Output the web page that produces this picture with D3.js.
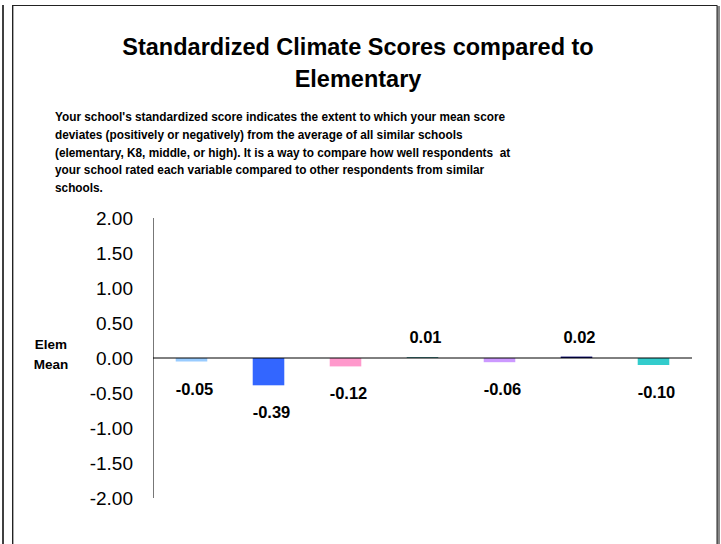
<!DOCTYPE html>
<html><head><meta charset="utf-8">
<script src="https://cdn.jsdelivr.net/npm/d3@7"></script>
<style>body{margin:0;background:#fff;} svg{display:block;font-family:"Liberation Sans",Arial,sans-serif;}</style>
</head><body>
<script>
const categories = ["Var1","Var2","Var3","Var4","Var5","Var6","Var7"];
const values = [-0.05,-0.39,-0.12,0.01,-0.06,0.02,-0.10];
const colors = ["#99CCFF","#3366FF","#FF99CC","#006666","#CC99FF","#000066","#33CCCC"];
const tickValues = [2,1.5,1,0.5,0,-0.5,-1,-1.5,-2];
const titleLines = ["Standardized Climate Scores compared to","Elementary"];
const noteLines = [
 "Your school's standardized score indicates the extent to which your mean score",
 "deviates (positively or negatively) from the average of all similar schools",
 "(elementary, K8, middle, or high). It is a way to compare how well respondents  at",
 "your school rated each variable compared to other respondents from similar",
 "schools."];
const axisTitle = ["Elem","Mean"];

const fmt = v => d3.format(".2f")(v).replace("\u2212","-");
const W=721,H=544;
const svg=d3.select("body").append("svg").attr("width",W).attr("height",H);
// frames
svg.append("line").attr("x1",3).attr("x2",3).attr("y1",5).attr("y2",H).attr("stroke","#000").attr("stroke-width",1.5);
svg.append("rect").attr("x",717).attr("y",6).attr("width",3).attr("height",H).attr("fill","#888");
svg.append("rect").attr("x",12.5).attr("y",5.5).attr("width",704.5).attr("height",H).attr("fill","none").attr("stroke","#222").attr("stroke-width",1);
svg.append("line").attr("x1",13.5).attr("x2",13.5).attr("y1",6).attr("y2",H).attr("stroke","#aaa").attr("stroke-width",1);

svg.selectAll("text.title").data(titleLines).join("text").attr("class","title")
 .attr("x",358).attr("y",(d,i)=>55+i*32).attr("text-anchor","middle")
 .style("font-weight","bold").style("font-size","23.5px").text(d=>d);
svg.append("g").attr("transform","translate(55,0) scale(0.91,1)")
 .selectAll("text.note").data(noteLines).join("text").attr("class","note")
 .attr("x",0).attr("y",(d,i)=>121.5+i*17.6).style("font-weight","bold").style("font-size","13px")
 .attr("xml:space","preserve").text(d=>d);

const y=d3.scaleLinear().domain([-2,2]).range([498,218]);
const x=d3.scaleBand().domain(categories).range([153,692]).paddingInner(0.59).paddingOuter(0.295);

svg.append("g").attr("transform","translate(133,0)")
 .call(d3.axisLeft(y).tickValues(tickValues).tickSize(0).tickPadding(0).tickFormat(fmt))
 .call(g=>g.select(".domain").remove())
 .call(g=>g.selectAll("text").style("font-size","19px").style("font-family","'Liberation Sans',Arial,sans-serif").attr("fill","#000"));
svg.append("line").attr("x1",153.5).attr("x2",153.5).attr("y1",y(2)).attr("y2",y(-2)).attr("stroke","#777");

svg.selectAll("rect.bar").data(values).join("rect").attr("class","bar")
 .attr("x",(d,i)=>x(categories[i])).attr("width",x.bandwidth())
 .attr("y",d=>y(Math.max(0,d))).attr("height",d=>Math.abs(y(d)-y(0)))
 .attr("fill",(d,i)=>colors[i]);
svg.append("line").attr("x1",153).attr("x2",692).attr("y1",y(0)).attr("y2",y(0)).attr("stroke","#000");

svg.selectAll("text.val").data(values).join("text").attr("class","val")
 .attr("x",(d,i)=>x(categories[i])+x.bandwidth()/2+3)
 .attr("y",d=>d<0? y(d)+27+6 : y(d)-20+6)
 .attr("text-anchor","middle").style("font-weight","bold").style("font-size","16.5px")
 .text(d=>fmt(d));

svg.selectAll("text.ax").data(axisTitle).join("text").attr("class","ax")
 .attr("x",51).attr("y",(d,i)=>349+i*20).attr("text-anchor","middle")
 .style("font-weight","bold").style("font-size","13.5px").text(d=>d);
</script>
</body></html>
